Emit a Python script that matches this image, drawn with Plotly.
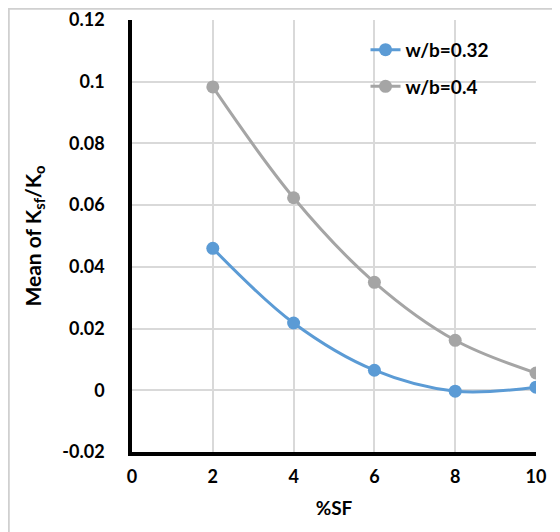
import plotly.graph_objects as go

sf = [2, 4, 6, 8, 10]
wb032 = [0.046, 0.0218, 0.0065, -0.0003, 0.001]
wb04 = [0.0983, 0.0624, 0.035, 0.0162, 0.0056]
names = ["w/b=0.32", "w/b=0.4"]
colors = ["#5B9BD5", "#A5A5A5"]

FONT = "Lato"

fig = go.Figure()
for i, (ys, nm, c) in enumerate(zip([wb032, wb04], names, colors)):
    fig.add_trace(go.Scatter(
        x=sf, y=ys, name=nm, mode="lines+markers",
        line=dict(color=c, width=3, shape="spline", smoothing=1.0),
        marker=dict(color=c, size=13),
        legendgroup=f"g{i}",
    ))

# page has 8px body margin -> figure is offset by 8px
fig.update_layout(
    width=552, height=524,
    margin=dict(l=124, r=24, t=12, b=80, autoexpand=False),
    paper_bgcolor="white", plot_bgcolor="white",
    font=dict(family=FONT, size=18, color="black"),
    showlegend=True,
    legend=dict(
        x=0.578, y=0.975, xanchor="left", yanchor="top",
        bgcolor="rgba(0,0,0,0)", traceorder="grouped", tracegroupgap=9,
        font=dict(family=FONT, size=19, color="black", weight="bold"),
    ),
    xaxis=dict(
        range=[0, 10], dtick=2, tick0=0, automargin=False,
        showgrid=True, gridcolor="#D9D9D9", gridwidth=1.5,
        showline=True, linecolor="black", linewidth=3.5,
        zeroline=False, ticks="", ticklabelstandoff=6,
        tickfont=dict(family=FONT, size=18, weight="bold"),
        title=dict(text="%SF", font=dict(family=FONT, size=19, weight="bold"), standoff=16),
    ),
    yaxis=dict(
        range=[-0.02, 0.12], dtick=0.02, tick0=0, automargin=False,
        showgrid=True, gridcolor="#D9D9D9", gridwidth=1.5,
        showline=True, linecolor="black", linewidth=3.5,
        zeroline=False, ticks="", ticklabelstandoff=20,
        tickvals=[-0.02, 0, 0.02, 0.04, 0.06, 0.08, 0.1, 0.12],
        ticktext=["-0.02", "0", "0.02", "0.04", "0.06", "0.08", "0.1", "0.12"],
        tickfont=dict(family=FONT, size=18, weight="bold"),
        title=dict(text="Mean of K<sub>sf</sub>/K<sub>o</sub>",
                   font=dict(family=FONT, size=21, weight="bold"), standoff=16),
    ),
    shapes=[dict(type="rect", xref="paper", yref="paper",
                 x0=-0.305, x1=1.3, y0=-0.5, y1=1.026,
                 line=dict(color="#D0D0D0", width=2), layer="below")],
)

fig.write_html("out.html")
